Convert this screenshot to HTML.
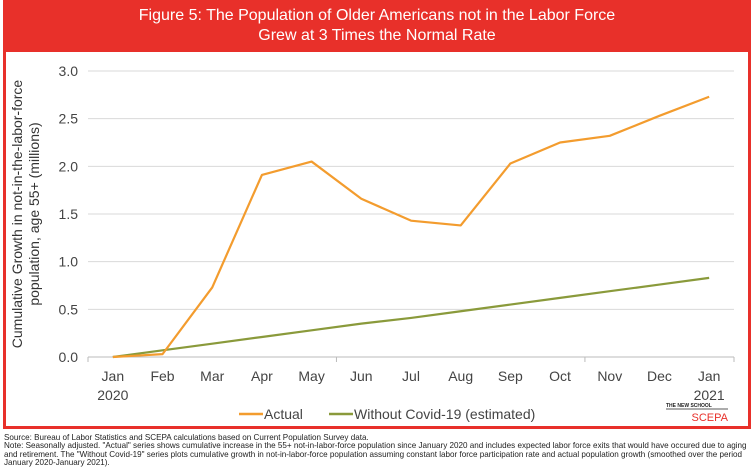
<!DOCTYPE html>
<html><head><meta charset="utf-8"><style>
body{margin:0;width:753px;height:472px;background:#fff;font-family:"Liberation Sans",sans-serif;overflow:hidden}
#frame{position:absolute;left:3px;top:0;width:742px;height:426px;border:3px solid #e8302a;border-top:none;background:#fff}
#hdr{position:absolute;left:0;top:0;width:742px;height:52px;background:#e8302a;color:#fff;text-align:center;font-size:16px;line-height:20px;padding-top:6px;box-sizing:border-box}
#note{position:absolute;left:4px;top:434px;font-size:8.1px;line-height:8.4px;color:#222;width:745px}
</style></head><body>
<div id="frame">
<div id="hdr">Figure 5: The Population of Older Americans not in the Labor Force<br>Grew at 3 Times the Normal Rate</div>
</div>
<svg id="chart" width="753" height="472" style="position:absolute;left:0;top:0"></svg>
<div id="note">Source: Bureau of Labor Statistics and SCEPA calculations based on Current Population Survey data.<br>Note: Seasonally adjusted. "Actual" series shows cumulative increase in the 55+ not-in-labor-force population since January 2020 and includes expected labor force exits that would have occured due to aging and retirement. The "Without Covid-19" series plots cumulative growth in not-in-labor-force population assuming constant labor force participation rate and actual population growth (smoothed over the period January 2020-January 2021).</div>
<script>
const categories=["Jan","Feb","Mar","Apr","May","Jun","Jul","Aug","Sep","Oct","Nov","Dec","Jan"];
const yearLabels=["2020","","","","","","","","","","","","2021"];
const actual=[0,0.03,0.73,1.91,2.05,1.66,1.43,1.38,2.03,2.25,2.32,2.53,2.73];
const withoutCovid=[0,0.07,0.14,0.21,0.28,0.35,0.41,0.48,0.55,0.62,0.69,0.76,0.83];
const yTicks=[0,0.5,1,1.5,2,2.5,3];
const NS="http://www.w3.org/2000/svg",svg=document.getElementById('chart');
const L=88,R=734,T=71,B=357,step=(R-L)/categories.length;
const x=i=>L+step*(i+0.5), y=v=>B-(v/3)*(B-T);
function mk(t,a,txt){const e=document.createElementNS(NS,t);for(const k in a)e.setAttribute(k,a[k]);if(txt!=null)e.textContent=txt;svg.appendChild(e);return e;}
yTicks.forEach(v=>{
 const g=mk('line',{x1:L,x2:R,y1:y(v),y2:y(v),stroke:v===0?'#bbb':'#d9d9d9','stroke-width':1});
 
 
 const t=mk('text',{x:L-10,y:y(v)+5,'text-anchor':'end','font-size':14,fill:'#444'},v.toFixed(1));
 
 
});
[0,5,10,13].forEach(k=>{const tk=mk('line',{x1:L+step*k,x2:L+step*k,y1:B,y2:B+5,stroke:'#bbb'});
 
 });
categories.forEach((c,i)=>{
 const t=mk('text',{x:x(i),y:B+24,'text-anchor':'middle','font-size':14,fill:'#444'},c);
 
 
 if(yearLabels[i]){const t2=mk('text',{x:x(i),y:B+43,'text-anchor':'middle','font-size':14,fill:'#444'},yearLabels[i]);
 
 }
});
function series(d,col,name){const p=mk('polyline',{points:d.map((v,i)=>x(i)+','+y(v)).join(' '),fill:'none',stroke:col,'stroke-width':2.2,'stroke-linejoin':'round'});
 
 }
series(withoutCovid,'#8a9a3b','without-covid-line');
series(actual,'#f39c2e','actual-line');
const yt=mk('text',{transform:'translate(30,214) rotate(-90)','text-anchor':'middle','font-size':14,fill:'#333'});


['Cumulative Growth in not-in-the-labor-force','population, age 55+ (millions)'].forEach((s,i)=>{const ts=document.createElementNS(NS,'tspan');ts.setAttribute('x',0);ts.setAttribute('dy',i?17:-8);ts.textContent=s;yt.appendChild(ts);});
const lg=[[239,'#f39c2e','Actual','legend-actual'],[329,'#8a9a3b','Without Covid-19 (estimated)','legend-without-covid']];
lg.forEach(([lx,c,t,n])=>{const l=mk('line',{x1:lx,x2:lx+24,y1:414,y2:414,stroke:c,'stroke-width':2.5});
 
 
 const tx=mk('text',{x:lx+25,y:419,'font-size':14,fill:'#444'},t);
 
 });
const lg1=mk('text',{x:666,y:407,'font-size':5,'font-weight':'bold',fill:'#222'},'THE NEW SCHOOL');


mk('line',{x1:666,x2:728,y1:409,y2:409,stroke:'#222','stroke-width':0.7});
const lg2=mk('text',{x:728,y:421,'text-anchor':'end','font-size':11,fill:'#e8302a'},'SCEPA');


</script>
</body></html>
